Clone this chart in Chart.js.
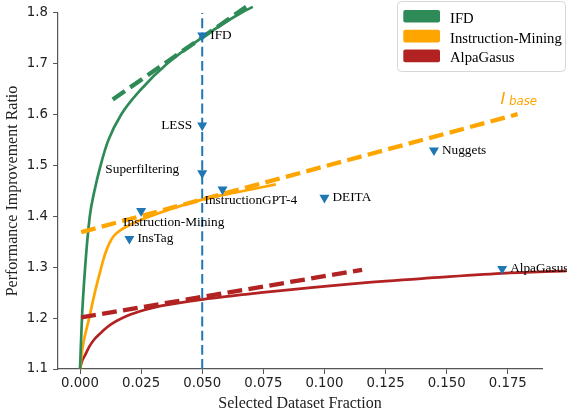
<!DOCTYPE html>
<html><head><meta charset="utf-8">
<script src="https://cdn.jsdelivr.net/npm/chart.js@4/dist/chart.umd.min.js"></script>
<style>html,body{margin:0;padding:0;background:#fff;}#wrap{width:567px;height:419px;}</style>
</head><body><div id="wrap"><canvas id="c" width="567" height="419"></canvas></div>
<script>
// ---- data ----
const xTicks = [0, 0.025, 0.05, 0.075, 0.1, 0.125, 0.15, 0.175];
const yTicks = [1.1, 1.2, 1.3, 1.4, 1.5, 1.6, 1.7, 1.8];
const seriesNames = ["IFD", "Instruction-Mining", "AlpaGasus"];

const ifdX = [0, 0.0008, 0.0021, 0.0040, 0.0059, 0.0084, 0.0116, 0.0168, 0.0250, 0.0356, 0.0495, 0.0658, 0.0707];
const ifdY = [1.10, 1.20, 1.30, 1.40, 1.45, 1.50, 1.55, 1.60, 1.65, 1.70, 1.75, 1.80, 1.812];
const ifdFitX = [0.0134, 0.068];
const ifdFitY = [1.630, 1.812];

const minX = [0, 0.0011, 0.0038, 0.0062, 0.0087, 0.0104, 0.0120, 0.0139, 0.0166, 0.0207, 0.0258, 0.0507, 0.0658, 0.0801];
const minY = [1.10, 1.143, 1.201, 1.253, 1.300, 1.328, 1.347, 1.362, 1.373, 1.384, 1.395, 1.434, 1.449, 1.463];
const minFitX = [0.0005, 0.179];
const minFitY = [1.369, 1.601];

const alpX = [0, 0.0007, 0.0020, 0.0038, 0.0058, 0.0087, 0.0128, 0.0196, 0.0263, 0.0331, 0.0504, 0.0739, 0.1147, 0.1432, 0.1726, 0.1991];
const alpY = [1.100, 1.114, 1.1265, 1.144, 1.158, 1.172, 1.188, 1.205, 1.216, 1.224, 1.237, 1.250, 1.269, 1.279, 1.288, 1.293];
const alpFitX = [0.0005, 0.1154];
const alpFitY = [1.2015, 1.295];

const methodNames = ["IFD", "LESS", "Superfiltering", "InstructionGPT-4", "DEITA", "Nuggets", "Instruction-Mining", "InsTag", "AlpaGasus"];
const methodX = [0.05, 0.05, 0.05, 0.0583, 0.100, 0.1448, 0.025, 0.0202, 0.1727];
const methodY = [1.756, 1.579, 1.485, 1.453, 1.437, 1.530, 1.411, 1.356, 1.297];

const refLineX = [0.05, 0.05];
const refLineY = [1.1, 1.8];

// ---- styles ----
const labelOffsets = [[8,0,'left'],[-10,0,'right'],[-23,-4,'right'],[-18,11,'left'],[8,0,'left'],[8,0,'left'],[-18,12,'left'],[8,0,'left'],[8,0,'left']];
const colors = ['#2e8b57', '#ffa500', '#b22222'];
const BLUE = '#1f77b4';
const AX = '#555555';

const pts = (xs, ys) => xs.map((v, i) => ({x: v, y: ys[i]}));

const solid = (xs, ys, c) => ({data: pts(xs, ys), borderColor: c, borderWidth: 2.7, pointRadius: 0,
  fill: false, cubicInterpolationMode: 'monotone', clip: false, borderCapStyle: 'butt', order: 3});
const dashed = (xs, ys, c) => ({data: pts(xs, ys), borderColor: c, borderWidth: 4.3, pointRadius: 0,
  fill: false, borderDash: [14.8, 6.4], clip: false, borderCapStyle: 'butt', order: 2});

const overlay = {
  id: 'overlay',
  afterDatasetsDraw(chart) {
    const {ctx} = chart; const x = chart.scales.x, y = chart.scales.y;
    ctx.save();
    ctx.font = '13.3px "Liberation Serif"';
    ctx.fillStyle = '#000';
    ctx.textBaseline = 'middle';
    methodNames.forEach((n, i) => {
      const px = x.getPixelForValue(methodX[i]), py = y.getPixelForValue(methodY[i]);
      const o = labelOffsets[i];
      ctx.textAlign = o[2];
      ctx.fillText(n, px + o[0], py + o[1]);
    });
    const ex = x.getPixelForValue(minFitX[1]), ey = y.getPixelForValue(minFitY[1]);
    ctx.fillStyle = colors[1];
    ctx.textAlign = 'left'; ctx.textBaseline = 'alphabetic';
    ctx.font = 'italic 16.5px "DejaVu Sans"';
    ctx.fillText('I', ex - 17, ey - 10);
    ctx.font = 'italic 11.8px "DejaVu Sans"';
    ctx.fillText('base', ex - 8.6, ey - 9);
    ctx.restore();
  },
  afterDraw(chart) {
    const {ctx} = chart;
    ctx.save();
    const bx = 397.5, by = 1.5, bw = 168, bh = 70, r = 4;
    ctx.beginPath();
    ctx.moveTo(bx + r, by); ctx.lineTo(bx + bw - r, by); ctx.arcTo(bx + bw, by, bx + bw, by + r, r);
    ctx.lineTo(bx + bw, by + bh - r); ctx.arcTo(bx + bw, by + bh, bx + bw - r, by + bh, r);
    ctx.lineTo(bx + r, by + bh); ctx.arcTo(bx, by + bh, bx, by + bh - r, r);
    ctx.lineTo(bx, by + r); ctx.arcTo(bx, by, bx + r, by, r); ctx.closePath();
    ctx.fillStyle = 'rgba(255,255,255,0.85)'; ctx.fill();
    ctx.strokeStyle = '#d6d6d6'; ctx.lineWidth = 1; ctx.stroke();
    ctx.font = '14.7px "Liberation Serif"';
    ctx.textAlign = 'left'; ctx.textBaseline = 'alphabetic';
    seriesNames.forEach((n, i) => {
      const base = 22.7 + i * 19.8;
      ctx.fillStyle = colors[i];
      ctx.beginPath();
      if (ctx.roundRect) ctx.roundRect(403.3, base - 12.8, 36.7, 12.7, 2); else ctx.rect(403.3, base - 12.8, 36.7, 12.7);
      ctx.fill();
      ctx.fillStyle = '#000';
      ctx.fillText(n, 450, base);
    });
    ctx.restore();
  }
};

new Chart(document.getElementById('c'), {
  type: 'line',
  data: {
    datasets: [
      {data: pts(methodX, methodY), showLine: false, pointStyle: 'triangle', rotation: 180, pointRadius: 5.8,
        pointBackgroundColor: BLUE, pointBorderWidth: 0, pointBorderColor: BLUE, clip: false, order: 0},
      {data: pts(refLineX, refLineY), borderColor: BLUE, borderWidth: 2, borderDash: [9.9, 4.3], pointRadius: 0,
        fill: false, clip: false, borderCapStyle: 'butt', order: 1},
      dashed(ifdFitX, ifdFitY, colors[0]),
      dashed(minFitX, minFitY, colors[1]),
      dashed(alpFitX, alpFitY, colors[2]),
      solid(ifdX, ifdY, colors[0]),
      solid(minX, minY, colors[1]),
      solid(alpX, alpY, colors[2])
    ]
  },
  options: {
    responsive: false, animation: false, devicePixelRatio: 1,
    layout: {padding: {left: 0, right: 25, top: 7, bottom: 0}},
    plugins: {legend: {display: false}, tooltip: {enabled: false}},
    scales: {
      x: {
        type: 'linear', min: -0.009, max: 0.189,
        afterBuildTicks: s => { s.ticks = xTicks.map(v => ({value: v})); },
        afterFit: s => { s.height = 50; },
        ticks: {autoSkip: false, maxRotation: 0, padding: 2, color: '#222',
          font: {family: 'DejaVu Sans', size: 13.3}, callback: v => Number(v).toFixed(3)},
        grid: {drawOnChartArea: false, drawTicks: true, tickLength: 5, tickWidth: 1, tickColor: AX},
        border: {display: true, color: AX, width: 1.2},
        title: {display: true, text: 'Selected Dataset Fraction', color: '#222',
          font: {family: 'Liberation Serif', size: 16}, padding: {top: 0, bottom: 5.4}}
      },
      y: {
        type: 'linear', min: 1.1, max: 1.8,
        afterBuildTicks: s => { s.ticks = yTicks.map(v => ({value: v})); },
        afterFit: s => { s.width = 58; },
        ticks: {autoSkip: false, padding: 5, color: '#222',
          font: {family: 'DejaVu Sans', size: 13.3}, callback: v => Number(v).toFixed(1)},
        grid: {drawOnChartArea: false, drawTicks: true, tickLength: 5, tickWidth: 1, tickColor: AX},
        border: {display: true, color: AX, width: 1.2},
        title: {display: true, text: 'Performance Improvement Ratio', color: '#222',
          font: {family: 'Liberation Serif', size: 16}, padding: {top: 3.4, bottom: 0}}
      }
    }
  },
  plugins: [overlay]
});
</script></body></html>
